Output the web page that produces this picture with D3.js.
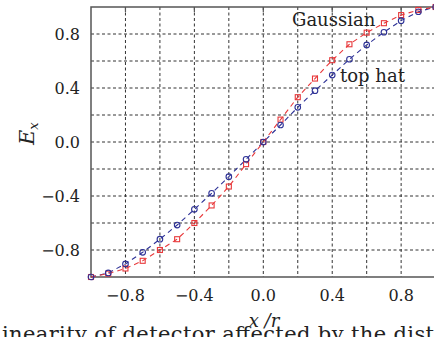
<!DOCTYPE html>
<html>
<head>
<meta charset="utf-8">
<script src="https://cdn.jsdelivr.net/npm/d3@7"></script>
<style>
  body { margin: 0; background: #fff; }
  svg { display: block; }
  text { font-family: "DejaVu Serif", serif; fill: #222; }
</style>
</head>
<body>
<div id="chart-area"></div>
<script>

// data (x/r vs normalised Ex)
var xPos = [-1.0, -0.9, -0.8, -0.7, -0.6, -0.5, -0.4, -0.3, -0.2, -0.1, 0.0,
            0.1, 0.2, 0.3, 0.4, 0.5, 0.6, 0.7, 0.8, 0.9, 1.0];
var gaussian = [-1.0, -0.975, -0.937, -0.88, -0.80, -0.72, -0.60, -0.47, -0.33, -0.164, 0.0,
                0.166, 0.332, 0.47, 0.606, 0.724, 0.81, 0.88, 0.94, 0.978, 1.0];
var topHat = [-1.0, -0.97, -0.903, -0.817, -0.72, -0.615, -0.499, -0.38, -0.257, -0.128, 0.0,
              0.126, 0.257, 0.38, 0.496, 0.613, 0.719, 0.813, 0.899, 0.965, 1.0];

var gridVals = [-0.8, -0.6, -0.4, -0.2, 0.0, 0.2, 0.4, 0.6, 0.8];
var tickVals = [-0.8, -0.4, 0.0, 0.4, 0.8];

var width = 434, height = 337;
var margin = {top: 7, left: 91, bottom: 60};
var plotW = 344.6;   // right side of the frame runs off the picture
var plotH = height - margin.top - margin.bottom;

var svg = d3.select("#chart-area").append("svg")
    .attr("width", width)
    .attr("height", height);

var g = svg.append("g")
    .attr("transform", "translate(" + margin.left + "," + margin.top + ")");

var x = d3.scaleLinear().domain([-1, 1]).range([0, plotW]);
var y = d3.scaleLinear().domain([-1, 1]).range([plotH, 0]);

var fmt = function(d) { return d3.format(".1f")(d).replace("-", "\u2212"); };

// dotted grid
g.selectAll(".vgrid").data(gridVals).enter().append("line")
    .attr("class", "vgrid")
    .attr("x1", function(d) { return x(d); })
    .attr("x2", function(d) { return x(d); })
    .attr("y1", 0).attr("y2", plotH)
    .attr("stroke", "#333").attr("stroke-width", 1)
    .attr("stroke-dasharray", "3,2.5");

g.selectAll(".hgrid").data(gridVals).enter().append("line")
    .attr("class", "hgrid")
    .attr("y1", function(d) { return y(d); })
    .attr("y2", function(d) { return y(d); })
    .attr("x1", 0).attr("x2", plotW)
    .attr("stroke", "#333").attr("stroke-width", 1)
    .attr("stroke-dasharray", "3,2.5");

// frame
g.append("rect")
    .attr("x", 0).attr("y", 0)
    .attr("width", plotW).attr("height", plotH)
    .attr("fill", "none")
    .attr("stroke", "#555").attr("stroke-width", 1.5);

// inward ticks on the top edge
g.selectAll(".ttick").data(tickVals).enter().append("line")
    .attr("class", "ttick")
    .attr("x1", function(d) { return x(d); })
    .attr("x2", function(d) { return x(d); })
    .attr("y1", 0).attr("y2", 5)
    .attr("stroke", "#555").attr("stroke-width", 1.2);

// tick labels
g.selectAll(".xlab").data(tickVals).enter().append("text")
    .attr("class", "xlab")
    .attr("x", function(d) { return x(d); })
    .attr("y", plotH + 24)
    .attr("text-anchor", "middle")
    .style("font-size", "16px")
    .text(fmt);

g.selectAll(".ylab").data(tickVals).enter().append("text")
    .attr("class", "ylab")
    .attr("x", -11)
    .attr("y", function(d) { return y(d) + 6; })
    .attr("text-anchor", "end")
    .style("font-size", "16px")
    .text(fmt);

// series
var line = d3.line()
    .x(function(d) { return x(d[0]); })
    .y(function(d) { return y(d[1]); });

var redCol = "#e8383a", blueCol = "#2d3196";
var gPts = xPos.map(function(v, i) { return [v, gaussian[i]]; });
var tPts = xPos.map(function(v, i) { return [v, topHat[i]]; });

g.append("path").datum(tPts)
    .attr("d", line).attr("fill", "none")
    .attr("stroke", blueCol).attr("stroke-width", 1.1)
    .attr("stroke-dasharray", "5,4");

g.append("path").datum(gPts)
    .attr("d", line).attr("fill", "none")
    .attr("stroke", redCol).attr("stroke-width", 1.1)
    .attr("stroke-dasharray", "5,4");

g.selectAll(".sq").data(gPts).enter().append("rect")
    .attr("class", "sq")
    .attr("x", function(d) { return x(d[0]) - 2.5; })
    .attr("y", function(d) { return y(d[1]) - 2.5; })
    .attr("width", 5).attr("height", 5)
    .attr("fill", "none")
    .attr("stroke", redCol).attr("stroke-width", 1.1);

g.selectAll(".circ").data(tPts).enter().append("circle")
    .attr("class", "circ")
    .attr("cx", function(d) { return x(d[0]); })
    .attr("cy", function(d) { return y(d[1]); })
    .attr("r", 2.8)
    .attr("fill", "none")
    .attr("stroke", blueCol).attr("stroke-width", 1.1);

// curve labels
svg.append("text")
    .attr("x", 292).attr("y", 26)
    .style("font-size", "18px")
    .text("Gaussian");

svg.append("text")
    .attr("x", 340).attr("y", 82)
    .style("font-size", "18px")
    .text("top hat");

// axis titles
svg.append("text")
    .attr("x", 264).attr("y", 327)
    .attr("text-anchor", "middle")
    .style("font-size", "18px")
    .style("font-style", "italic")
    .text("x /r");

var yt = svg.append("text")
    .attr("transform", "translate(34,145) rotate(-90)")
    .style("font-size", "21px")
    .style("font-style", "italic");
yt.append("tspan").text("E");
yt.append("tspan").attr("dy", 4).style("font-size", "13px").text("x");

// caption, cut off by the crop
svg.append("text")
    .attr("x", 2).attr("y", 341)
    .attr("textLength", 432)
    .attr("lengthAdjust", "spacing")
    .style("font-size", "21px")
    .text("inearity of detector affected by the dist");

</script>
</body>
</html>
